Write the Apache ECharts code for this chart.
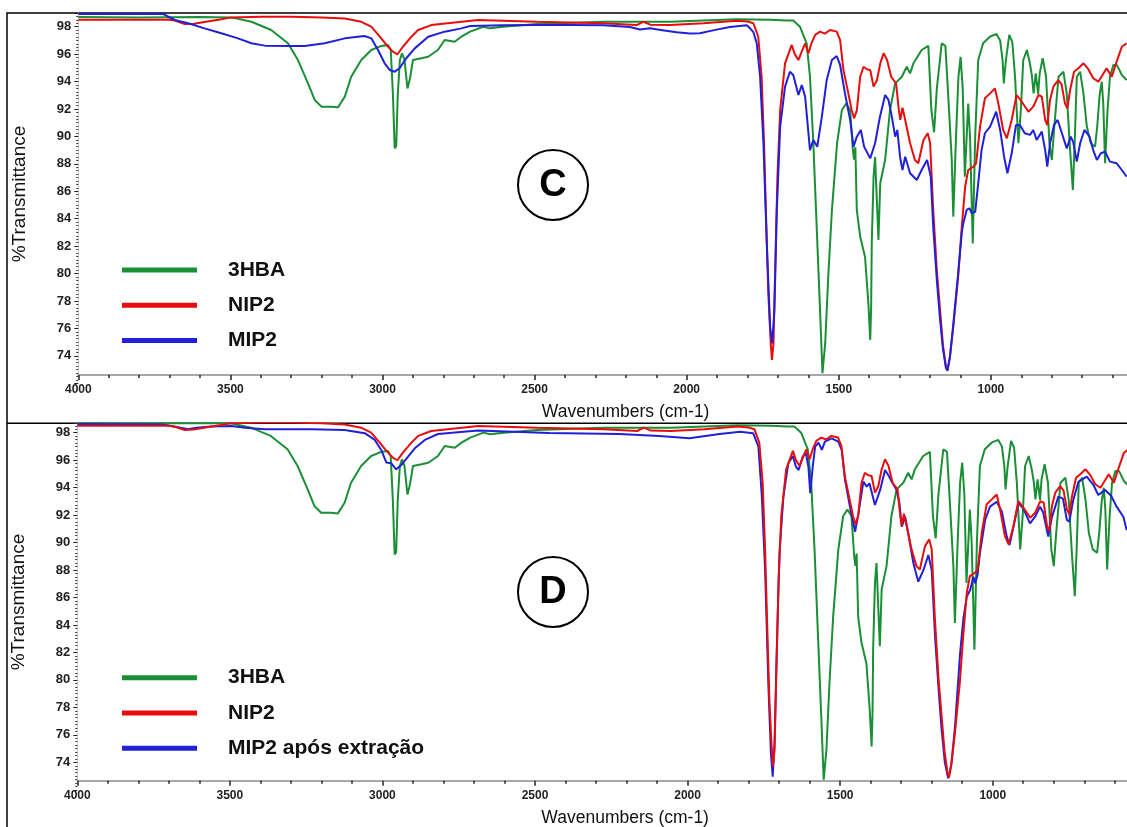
<!DOCTYPE html>
<html><head><meta charset="utf-8">
<script src="https://cdn.jsdelivr.net/npm/echarts@6/dist/echarts.min.js"></script>
<style>html,body{margin:0;padding:0;background:#fff}#c{width:1127px;height:827px}</style>
</head><body><div id="c"></div>
<script>
// [wavenumber (cm-1), %Transmittance]
const hba3 = [[4000,98.7],[3800,98.68],[3600,98.7],[3497,98.68],[3431,98.36],[3366,97.76],[3311,96.79],[3278,95.57],[3245,93.87],[3223,92.66],[3201,92.17],[3168,92.17],[3146,92.12],[3124,92.9],[3103,94.35],[3070,95.57],[3037,96.3],[3004,96.6],[2982,96.67],[2973,96.3],[2966,93.14],[2960,89.13],[2955,89.3],[2950,93.0],[2943,95.57],[2936,96.06],[2928,95.6],[2918,93.5],[2910,94.2],[2900,95.57],[2872,95.7],[2850,95.81],[2818,96.3],[2796,97.03],[2763,96.9],[2741,97.27],[2712,97.64],[2669,98.0],[2647,97.88],[2603,98.0],[2493,98.2],[2274,98.36],[2055,98.36],[1836,98.54],[1726,98.5],[1671,98.45],[1650,98.45],[1628,98.0],[1606,96.79],[1595,94.35],[1584,89.5],[1573,83.42],[1562,77.35],[1554,72.73],[1545,74.9],[1535,79.77],[1523,84.6],[1506,89.5],[1490,91.93],[1476,92.4],[1463,91.93],[1454,89.0],[1450,88.3],[1446,89.2],[1441,84.6],[1430,82.7],[1414,81.2],[1403,77.8],[1397,75.16],[1394,77.5],[1392,82.2],[1386,87.06],[1381,88.5],[1377,86.3],[1370,82.45],[1364,86.6],[1348,88.28],[1332,91.93],[1315,93.87],[1293,94.35],[1277,95.08],[1266,94.6],[1255,95.33],[1228,96.3],[1206,96.6],[1196,91.93],[1187,90.3],[1178,93.5],[1162,96.79],[1150,96.6],[1141,93.14],[1129,88.28],[1124,84.15],[1115,90.0],[1107,94.35],[1100,95.81],[1093,93.5],[1086,87.06],[1081,87.2],[1075,92.4],[1069,90.0],[1060,82.2],[1052,90.0],[1042,95.57],[1026,96.79],[1004,97.27],[982,97.47],[970,97.0],[962,95.57],[958,93.87],[951,95.57],[940,97.4],[930,96.9],[921,94.35],[910,89.5],[902,91.9],[894,95.57],[882,96.3],[872,95.3],[866,94.5],[860,93.14],[853,94.6],[845,93.1],[840,94.6],[830,95.7],[819,94.35],[808,89.5],[800,88.28],[792,90.7],[778,94.35],[762,94.72],[751,93.1],[740,89.0],[731,86.09],[725,89.5],[718,94.35],[707,94.72],[696,93.1],[685,90.7],[672,89.5],[658,89.25],[651,90.7],[643,93.0],[636,93.99],[631,92.4],[625,88.04],[617,91.9],[609,94.35],[598,95.2],[586,95.2],[570,94.48],[554,94.1]];

const nip2 = [[4000,98.5],[3700,98.5],[3683,98.45],[3650,98.2],[3620,98.22],[3585,98.35],[3530,98.55],[3497,98.68],[3400,98.73],[3300,98.73],[3200,98.68],[3124,98.6],[3070,98.36],[3037,98.0],[3009,97.27],[2987,96.67],[2966,96.18],[2951,95.99],[2933,96.54],[2905,97.27],[2883,97.76],[2840,98.12],[2686,98.49],[2493,98.36],[2274,98.25],[2165,98.12],[2143,98.36],[2120,98.15],[2055,98.12],[1945,98.25],[1836,98.44],[1800,98.38],[1781,98.25],[1765,97.27],[1754,94.35],[1746,89.5],[1740,84.64],[1732,78.56],[1724,74.9],[1720,73.7],[1715,74.9],[1710,79.77],[1702,87.06],[1693,91.93],[1677,95.33],[1655,96.67],[1645,96.0],[1633,95.57],[1622,96.2],[1611,96.79],[1600,96.06],[1590,96.8],[1578,97.4],[1562,97.64],[1546,97.5],[1529,97.76],[1507,97.64],[1496,97.03],[1485,94.84],[1469,93.14],[1458,91.93],[1450,91.32],[1441,91.9],[1430,94.35],[1419,95.08],[1408,94.9],[1397,94.84],[1386,93.63],[1375,94.1],[1364,95.33],[1353,96.06],[1342,95.6],[1328,94.35],[1320,94.1],[1312,93.87],[1303,91.93],[1298,91.2],[1291,92.1],[1282,91.2],[1266,89.5],[1250,88.28],[1239,88.04],[1222,89.74],[1208,90.23],[1200,89.5],[1190,84.64],[1178,80.2],[1168,77.5],[1158,74.8],[1148,73.2],[1143,72.9],[1135,73.94],[1124,76.1],[1108,79.77],[1096,83.42],[1085,86.33],[1075,87.55],[1058,87.8],[1049,88.04],[1036,90.71],[1020,92.78],[1003,93.14],[987,93.5],[976,92.41],[960,90.47],[948,89.86],[932,91.2],[916,93.02],[899,92.53],[877,91.8],[861,92.17],[844,93.02],[833,92.9],[822,91.2],[815,90.83],[806,92.66],[795,93.63],[779,94.11],[768,93.8],[757,92.41],[749,92.05],[740,93.39],[727,94.72],[713,94.97],[696,95.33],[680,94.9],[664,94.24],[647,93.99],[633,94.5],[620,94.97],[603,94.35],[587,95.45],[570,96.54],[554,96.79]];

const mip2 = [[4000,98.92],[3720,98.92],[3683,98.49],[3639,98.25],[3585,97.88],[3530,97.52],[3475,97.15],[3431,96.79],[3387,96.62],[3300,96.6],[3256,96.6],[3190,96.79],[3124,97.15],[3059,97.32],[3037,97.15],[3015,96.3],[2993,95.33],[2976,94.84],[2960,94.72],[2944,94.97],[2922,95.7],[2894,96.42],[2850,97.27],[2796,97.64],[2741,97.88],[2712,98.05],[2603,98.1],[2493,98.12],[2384,98.12],[2274,98.1],[2187,97.98],[2154,97.8],[2121,97.88],[2080,97.75],[2033,97.6],[1990,97.5],[1957,97.52],[1910,97.75],[1858,97.98],[1803,98.1],[1792,97.88],[1781,97.6],[1770,96.79],[1759,94.35],[1748,89.5],[1737,82.2],[1726,76.1],[1719,74.9],[1712,77.35],[1704,84.64],[1693,90.71],[1677,93.63],[1661,94.72],[1650,94.48],[1633,93.02],[1622,93.75],[1611,92.9],[1602,90.71],[1595,89.0],[1584,89.74],[1571,89.25],[1556,91.44],[1540,94.11],[1523,95.57],[1507,95.86],[1496,95.21],[1480,93.14],[1463,91.2],[1452,89.25],[1441,89.98],[1428,90.47],[1417,89.25],[1397,88.4],[1381,89.5],[1365,91.44],[1348,93.02],[1337,92.66],[1326,91.44],[1315,89.98],[1308,90.47],[1299,88.52],[1291,87.55],[1282,88.52],[1266,87.31],[1244,86.82],[1228,87.55],[1210,88.28],[1198,87.06],[1190,83.42],[1178,79.5],[1168,76.8],[1158,74.5],[1148,73.1],[1143,72.95],[1135,73.9],[1124,76.3],[1108,80.0],[1096,83.0],[1091,83.67],[1080,84.64],[1071,84.76],[1063,84.4],[1052,84.5],[1042,86.58],[1031,89.0],[1020,90.23],[1003,90.71],[983,91.8],[970,90.47],[957,88.52],[946,87.31],[932,88.77],[918,90.83],[905,90.83],[889,90.23],[872,90.11],[861,90.47],[850,89.74],[833,90.35],[822,89.0],[815,87.8],[806,89.5],[793,90.83],[781,91.2],[767,90.23],[751,89.13],[738,89.98],[730,89.6],[718,88.16],[707,89.5],[693,90.47],[676,89.98],[664,89.0],[652,88.28],[639,88.77],[625,88.89],[609,88.16],[587,88.04],[570,87.55],[554,87.06]];

const mip2Extracted = [[4000,98.63],[3720,98.6],[3670,98.39],[3637,98.25],[3610,98.35],[3561,98.44],[3495,98.49],[3450,98.35],[3386,98.25],[3233,98.25],[3124,98.2],[3058,97.96],[3025,97.47],[3004,96.74],[2987,95.82],[2971,95.77],[2955,95.33],[2938,95.65],[2916,96.25],[2894,96.86],[2861,97.47],[2818,97.9],[2687,98.15],[2453,97.98],[2224,97.9],[2093,97.76],[1994,97.6],[1895,97.9],[1828,98.07],[1785,97.96],[1768,96.98],[1757,93.5],[1746,88.0],[1735,79.5],[1727,74.65],[1721,72.95],[1715,75.5],[1708,81.93],[1699,89.22],[1686,93.34],[1670,95.77],[1655,96.3],[1645,95.52],[1636,95.28],[1623,96.25],[1612,96.5],[1604,95.5],[1598,93.6],[1590,95.5],[1582,96.98],[1571,97.27],[1560,96.74],[1550,97.34],[1528,97.59],[1506,97.34],[1495,96.74],[1484,94.55],[1468,92.61],[1451,90.79],[1440,92.13],[1424,94.43],[1413,94.07],[1404,94.31],[1386,92.73],[1369,93.83],[1353,95.28],[1342,94.9],[1328,94.31],[1315,93.83],[1306,92.9],[1298,91.15],[1287,91.88],[1277,90.67],[1260,88.49],[1244,87.15],[1227,88.0],[1211,89.09],[1200,88.0],[1189,83.14],[1178,79.5],[1168,76.5],[1157,74.0],[1146,72.83],[1136,73.8],[1124,76.5],[1107,81.93],[1096,84.5],[1085,86.06],[1074,86.54],[1063,87.51],[1058,87.03],[1050,87.6],[1042,89.22],[1025,91.64],[1009,92.61],[987,92.97],[970,92.25],[954,90.43],[945,89.82],[932,91.15],[916,92.86],[900,92.49],[878,91.4],[861,91.88],[845,92.61],[835,92.2],[818,90.43],[807,91.77],[785,93.34],[770,93.2],[757,91.64],[749,91.52],[736,93.1],[719,94.43],[692,94.8],[670,94.19],[654,93.46],[632,93.83],[612,93.4],[594,92.61],[572,91.88],[561,90.91]];

const legendTop = ['3HBA', 'NIP2', 'MIP2'];
const legendBottom = ['3HBA', 'NIP2', 'MIP2 após extração'];
const panelLabels = ['C', 'D'];

const FONT = 'Liberation Sans, Arial, sans-serif';
const GREEN = '#1b8f36', RED = '#e80c0c', BLUE = '#2020d8';

function dataX(grid, min) {
  return {
    gridIndex: grid, type: 'value', inverse: true, min: min, max: 4000,
    axisLine: { show: true, onZero: false, lineStyle: { color: '#a8a8a8', width: 2 } },
    axisTick: { show: false }, axisLabel: { show: false }, splitLine: { show: false },
    name: 'Wavenumbers (cm-1)', nameLocation: 'middle', nameGap: 28,
    nameTextStyle: { fontSize: 17.5, color: '#111', fontFamily: FONT, padding: [0, 0, 0, 46] }
  };
}
function dataY(grid, min, max) {
  return {
    gridIndex: grid, type: 'value', min: min, max: max,
    axisLine: { show: true, onZero: false, lineStyle: { color: '#cfcfcf', width: 1 } },
    axisTick: { show: false }, axisLabel: { show: false }, splitLine: { show: false },
    name: '%Transmittance', nameLocation: 'middle', nameGap: 49,
    nameTextStyle: { fontSize: 19, color: '#111', fontFamily: FONT }
  };
}
function tickX(grid, offset) {
  return {
    gridIndex: grid, type: 'value', inverse: true, min: 500, max: 4000, interval: 500, offset: offset,
    axisLine: { show: false, onZero: false },
    axisTick: { show: true, length: 5, lineStyle: { color: '#222', width: 1.5 } },
    minorTick: { show: true, splitNumber: 5, length: 3, lineStyle: { color: '#222', width: 1.5 } },
    axisLabel: { showMinLabel: false, fontSize: 12, fontWeight: 'bold', color: '#222', fontFamily: FONT, margin: 9,
      formatter: function (v) { return String(Math.round(v)); } },
    splitLine: { show: false }
  };
}
function tickY(grid, max) {
  return {
    gridIndex: grid, type: 'value', min: 72, max: max, interval: 2,
    axisLine: { show: false, onZero: false },
    axisTick: { show: true, length: 4, lineStyle: { color: '#222', width: 1 } },
    minorTick: { show: true, splitNumber: 8, length: 2, lineStyle: { color: '#333', width: 1 } },
    axisLabel: { showMinLabel: false, showMaxLabel: false, fontSize: 13, fontWeight: 'bold', color: '#222', fontFamily: FONT, margin: 7,
      formatter: function (v) { return String(Math.round(v)); } },
    splitLine: { show: false }
  };
}
function line(name, data, color, idx, z) {
  return { type: 'line', name: name, data: data, xAxisIndex: idx, yAxisIndex: idx,
    symbol: 'none', showSymbol: false, clip: true, z: z,
    lineStyle: { color: color, width: 2 }, itemStyle: { color: color } };
}
function legend(names, top) {
  return { data: names, orient: 'vertical', left: 122, top: top, padding: 0,
    itemWidth: 75, itemHeight: 5, itemGap: 11.3, icon: 'rect', selectedMode: false,
    textStyle: { fontSize: 21, fontWeight: 'bold', color: '#111', fontFamily: FONT, lineHeight: 24, padding: [0, 0, 0, 26] } };
}

const chart = echarts.init(document.getElementById('c'), null, { renderer: 'canvas' });
chart.setOption({
  animation: false,
  backgroundColor: '#fff',
  grid: [
    { left: 78.3, top: 13, width: 1048.7, height: 362, containLabel: false, outerBoundsMode: 'none' },
    { left: 77.3, top: 423.3, width: 1049.7, height: 357.4, containLabel: false, outerBoundsMode: 'none' },
    { left: 78.3, top: 13, width: 1064.7, height: 370.2, containLabel: false, outerBoundsMode: 'none' },
    { left: 77.3, top: 423.3, width: 1068, height: 366.5, containLabel: false, outerBoundsMode: 'none' }
  ],
  xAxis: [dataX(0, 553), dataX(1, 560), tickX(2, -8.2), tickX(3, -9.1)],
  yAxis: [dataY(0, 72.6, 99), dataY(1, 72.66, 98.68), tickY(2, 99), tickY(3, 98.68)],
  legend: [legend(legendTop, 258), legend(legendBottom, 665.7)],
  series: [
    line('3HBA', hba3, GREEN, 0, 2),
    line('NIP2', nip2, RED, 0, 3),
    line('MIP2', mip2, BLUE, 0, 4),
    line('3HBA', hba3, GREEN, 1, 2),
    line('MIP2 após extração', mip2Extracted, BLUE, 1, 3),
    line('NIP2', nip2, RED, 1, 4)
  ],
  graphic: [
    { type: 'rect', silent: true, z: 0, shape: { x: 7, y: 13, width: 1400, height: 1000 }, style: { fill: 'none', stroke: '#000', lineWidth: 1.5 } },
    { type: 'line', silent: true, z: 0, shape: { x1: 7, y1: 423.3, x2: 1127, y2: 423.3 }, style: { stroke: '#000', lineWidth: 1.5 } },
    { type: 'circle', silent: true, z: 100, shape: { cx: 553, cy: 185, r: 35 }, style: { fill: '#fff', stroke: '#000', lineWidth: 2 } },
    { type: 'text', silent: true, z: 101, x: 553, y: 186, style: { text: panelLabels[0], fontSize: 38, fontWeight: 'bold', fontFamily: FONT, fill: '#000', align: 'center', verticalAlign: 'middle' } },
    { type: 'circle', silent: true, z: 100, shape: { cx: 553, cy: 592, r: 35 }, style: { fill: '#fff', stroke: '#000', lineWidth: 2 } },
    { type: 'text', silent: true, z: 101, x: 553, y: 593, style: { text: panelLabels[1], fontSize: 38, fontWeight: 'bold', fontFamily: FONT, fill: '#000', align: 'center', verticalAlign: 'middle' } }
  ]
});
</script>
</body></html>
